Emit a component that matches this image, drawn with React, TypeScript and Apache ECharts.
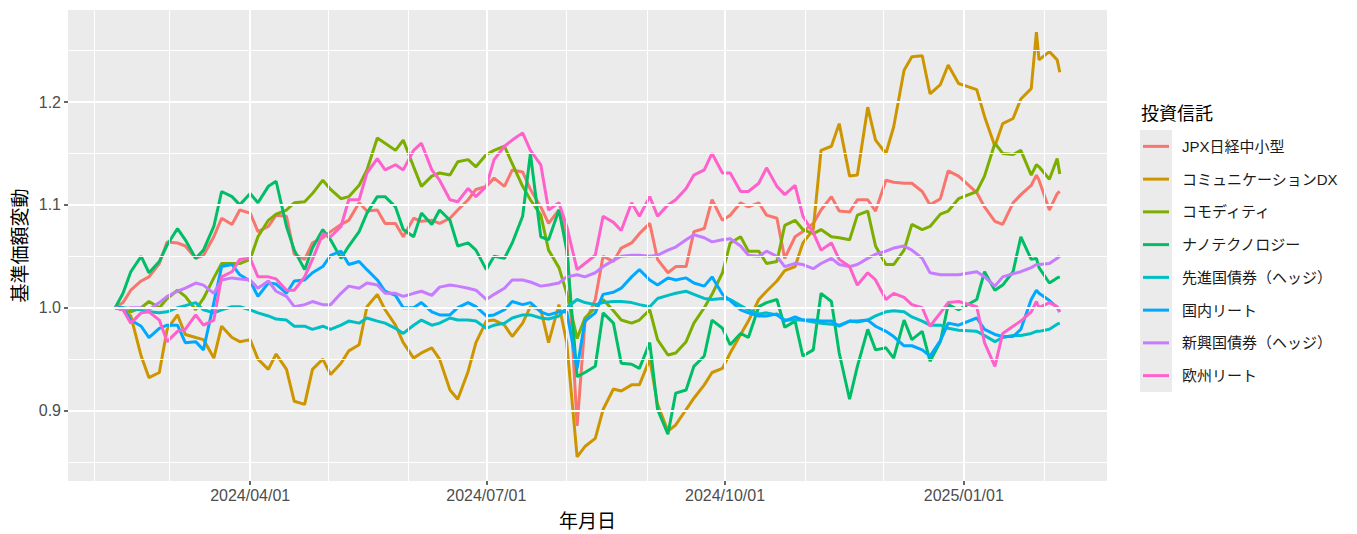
import React, { useEffect, useRef } from "react";
import * as echarts from "echarts";

// ---- data ----
const dates = [
  "2024-02-09","2024-02-12","2024-02-15","2024-02-19","2024-02-22","2024-02-26","2024-02-29",
  "2024-03-04","2024-03-07","2024-03-11","2024-03-14","2024-03-18","2024-03-21","2024-03-25","2024-03-28",
  "2024-04-01","2024-04-04","2024-04-08","2024-04-11","2024-04-15","2024-04-18","2024-04-22","2024-04-25","2024-04-29",
  "2024-05-02","2024-05-06","2024-05-09","2024-05-13","2024-05-16","2024-05-20","2024-05-23","2024-05-27","2024-05-30",
  "2024-06-03","2024-06-06","2024-06-10","2024-06-13","2024-06-17","2024-06-20","2024-06-24","2024-06-27",
  "2024-07-01","2024-07-04","2024-07-08","2024-07-11","2024-07-15","2024-07-18","2024-07-22","2024-07-25","2024-07-29",
  "2024-08-01","2024-08-05","2024-08-08","2024-08-12","2024-08-15","2024-08-19","2024-08-22","2024-08-26","2024-08-29",
  "2024-09-02","2024-09-05","2024-09-09","2024-09-12","2024-09-16","2024-09-19","2024-09-23","2024-09-26","2024-09-30",
  "2024-10-03","2024-10-07","2024-10-10","2024-10-14","2024-10-17","2024-10-21","2024-10-24","2024-10-28","2024-10-31",
  "2024-11-04","2024-11-07","2024-11-11","2024-11-14","2024-11-18","2024-11-21","2024-11-25","2024-11-28",
  "2024-12-02","2024-12-05","2024-12-09","2024-12-12","2024-12-16","2024-12-19","2024-12-23","2024-12-26","2024-12-30",
  "2025-01-06","2025-01-09","2025-01-13","2025-01-16","2025-01-20","2025-01-23","2025-01-27","2025-01-29","2025-01-30",
  "2025-02-03","2025-02-06","2025-02-07",
];

const jpx = [
  1.000,1.005,1.017,1.026,1.030,1.043,1.064,
  1.063,1.060,1.048,1.051,1.069,1.087,1.081,1.095,
  1.092,1.074,1.079,1.090,1.089,1.052,1.047,1.063,1.068,
  1.074,1.081,1.085,1.102,1.094,1.095,1.082,1.082,1.069,
  1.087,1.084,1.085,1.082,1.087,1.095,1.105,1.115,
  1.118,1.126,1.118,1.134,1.132,1.115,1.098,1.082,1.095,
  1.069,0.885,0.985,1.008,1.050,1.045,1.058,1.063,1.072,
  1.082,1.047,1.034,1.040,1.040,1.074,1.077,1.105,1.085,
  1.090,1.102,1.098,1.102,1.090,1.087,1.048,1.069,1.074,
  1.082,1.095,1.108,1.094,1.093,1.105,1.105,1.094,
  1.124,1.122,1.121,1.121,1.113,1.100,1.106,1.133,1.128,
  1.112,1.098,1.084,1.081,1.102,1.110,1.119,1.129,1.124,
  1.095,1.111,1.113,
];

const commDX = [
  1.000,0.998,0.992,0.953,0.932,0.937,0.979,
  0.993,0.974,0.971,0.969,0.951,0.982,0.971,0.967,
  0.969,0.950,0.940,0.955,0.940,0.909,0.906,0.940,0.950,
  0.935,0.946,0.958,0.964,1.001,1.013,0.998,0.983,0.966,
  0.951,0.956,0.961,0.950,0.920,0.911,0.938,0.966,
  0.987,0.988,0.983,0.972,0.985,1.001,0.998,0.966,1.003,
  0.966,0.855,0.865,0.873,0.901,0.921,0.919,0.925,0.925,
  0.950,0.906,0.880,0.886,0.901,0.912,0.925,0.937,0.941,
  0.956,0.974,0.987,1.008,1.016,1.026,1.036,1.040,1.063,
  1.076,1.153,1.157,1.179,1.128,1.129,1.195,1.163,
  1.150,1.176,1.231,1.244,1.245,1.208,1.217,1.236,1.218,
  1.212,1.186,1.157,1.179,1.184,1.203,1.213,1.268,1.241,
  1.249,1.241,1.229,
];

const commodity = [
  1.000,1.000,0.996,1.000,1.006,1.000,1.009,
  1.017,1.011,0.998,1.009,1.029,1.043,1.043,1.043,
  1.047,1.069,1.085,1.091,1.095,1.102,1.103,1.111,1.124,
  1.115,1.106,1.108,1.119,1.134,1.165,1.160,1.153,1.163,
  1.137,1.118,1.128,1.131,1.129,1.142,1.144,1.137,
  1.149,1.153,1.157,1.140,1.118,1.105,1.090,1.056,1.039,
  1.014,0.970,0.990,1.000,1.008,0.997,0.988,0.985,0.988,
  0.998,0.969,0.954,0.956,0.967,0.985,1.000,1.013,1.034,
  1.063,1.069,1.055,1.055,1.043,1.045,1.080,1.085,1.076,
  1.072,1.076,1.069,1.068,1.066,1.090,1.094,1.060,
  1.042,1.042,1.056,1.081,1.076,1.079,1.091,1.094,1.106,
  1.113,1.128,1.160,1.150,1.149,1.153,1.129,1.139,1.137,
  1.125,1.145,1.130,
];

const nanotech = [
  1.000,1.014,1.035,1.050,1.034,1.045,1.061,
  1.077,1.066,1.048,1.056,1.079,1.113,1.108,1.100,
  1.111,1.102,1.118,1.123,1.079,1.056,1.037,1.058,1.076,
  1.066,1.048,1.060,1.074,1.092,1.108,1.108,1.098,1.076,
  1.069,1.092,1.081,1.095,1.085,1.060,1.063,1.056,
  1.037,1.050,1.048,1.063,1.089,1.150,1.069,1.066,1.095,
  1.056,0.933,0.937,0.943,0.995,0.985,0.946,0.945,0.941,
  0.966,0.901,0.877,0.917,0.920,0.943,0.953,0.988,0.980,
  0.964,0.975,0.971,1.001,1.005,1.008,0.981,0.987,0.953,
  0.959,1.014,1.006,0.956,0.911,0.943,0.979,0.959,
  0.961,0.951,0.988,0.969,0.977,0.948,0.967,1.003,0.998,
  1.008,1.035,1.017,1.022,1.035,1.069,1.047,1.048,1.039,
  1.024,1.029,1.030,
];

const devBond = [
  1.000,1.000,0.999,0.998,0.996,0.995,0.996,
  1.000,1.002,1.005,0.998,0.995,0.998,1.001,1.001,
  0.998,0.995,0.992,0.989,0.988,0.982,0.982,0.979,0.982,
  0.979,0.983,0.987,0.985,0.990,0.987,0.985,0.980,0.975,
  0.983,0.988,0.983,0.985,0.990,0.988,0.988,0.987,
  0.980,0.983,0.985,0.990,0.993,0.993,0.990,0.989,0.992,
  1.000,1.008,1.005,1.003,1.005,1.006,1.006,1.005,1.003,
  1.001,1.009,1.012,1.014,1.016,1.013,1.009,1.008,1.009,
  1.008,1.002,0.998,0.994,0.995,0.993,0.988,0.988,0.988,
  0.986,0.985,0.984,0.983,0.987,0.986,0.988,0.992,
  0.996,0.997,0.996,0.991,0.987,0.983,0.983,0.980,0.978,
  0.977,0.973,0.967,0.971,0.973,0.973,0.975,0.977,0.977,
  0.979,0.984,0.985,
];

const jReit = [
  1.000,1.000,0.988,0.982,0.971,0.980,0.983,
  0.983,0.966,0.967,0.959,1.005,1.040,1.042,1.032,
  1.026,1.011,1.024,1.023,1.014,1.026,1.027,1.034,1.040,
  1.051,1.055,1.042,1.045,1.037,1.027,1.016,1.012,1.000,
  1.000,1.005,0.996,0.993,0.993,1.000,1.005,1.001,
  0.992,0.993,0.998,1.006,1.003,1.005,0.996,0.993,0.996,
  0.996,0.941,0.987,0.995,1.013,1.015,1.019,1.030,1.037,
  1.027,1.022,1.029,1.027,1.029,1.024,1.021,1.030,1.013,
  1.007,0.998,0.995,0.992,0.992,0.994,0.987,0.991,0.988,
  0.988,0.987,0.987,0.982,0.987,0.987,0.988,0.982,
  0.977,0.972,0.963,0.963,0.959,0.953,0.968,0.985,0.983,
  0.990,0.979,0.974,0.972,0.972,0.979,1.008,1.017,1.014,
  1.007,1.000,0.996,
];

const emBond = [
  1.000,0.998,1.000,1.000,0.998,1.005,1.011,
  1.016,1.019,1.024,1.022,1.014,1.027,1.029,1.028,
  1.027,1.019,1.026,1.016,1.011,1.001,1.003,1.006,1.003,
  1.003,1.014,1.021,1.019,1.024,1.022,1.014,1.014,1.011,
  1.014,1.016,1.012,1.020,1.022,1.021,1.019,1.017,
  1.008,1.013,1.019,1.027,1.027,1.025,1.021,1.022,1.024,
  1.030,1.032,1.030,1.034,1.040,1.046,1.050,1.051,1.051,
  1.050,1.051,1.056,1.059,1.066,1.071,1.068,1.064,1.066,
  1.067,1.060,1.051,1.050,1.055,1.050,1.040,1.043,1.042,
  1.038,1.043,1.048,1.042,1.040,1.042,1.048,1.052,
  1.055,1.058,1.060,1.056,1.048,1.034,1.032,1.032,1.032,
  1.035,1.030,1.021,1.030,1.033,1.035,1.039,1.042,1.042,
  1.043,1.048,1.050,
];

const euReit = [
  1.000,0.998,0.985,0.995,0.996,0.988,0.967,
  0.977,0.979,0.993,0.983,0.988,1.030,1.035,1.047,
  1.048,1.030,1.030,1.028,1.017,1.017,1.030,1.047,1.072,
  1.069,1.079,1.105,1.105,1.131,1.145,1.134,1.139,1.134,
  1.153,1.160,1.134,1.124,1.105,1.103,1.116,1.108,
  1.118,1.144,1.157,1.163,1.170,1.153,1.139,1.095,1.102,
  1.079,1.037,1.043,1.051,1.089,1.083,1.075,1.102,1.089,
  1.108,1.089,1.100,1.105,1.116,1.129,1.134,1.150,1.131,
  1.131,1.113,1.113,1.121,1.136,1.118,1.110,1.119,1.089,
  1.073,1.056,1.063,1.047,1.040,1.022,1.034,1.027,
  1.008,1.014,1.010,1.003,1.000,0.982,0.995,1.005,1.006,
  1.001,0.966,0.943,0.975,0.982,0.987,0.996,1.006,1.000,
  1.005,1.001,0.996,
];

const seriesNames = [
  "JPX日経中小型",
  "コミュニケーションDX",
  "コモディティ",
  "ナノテクノロジー",
  "先進国債券（ヘッジ）",
  "国内リート",
  "新興国債券（ヘッジ）",
  "欧州リート",
];
const seriesValues = [jpx, commDX, commodity, nanotech, devBond, jReit, emBond, euReit];
const colors = ["#F8766D", "#CD9600", "#7CAE00", "#00BE67", "#00BFC4", "#00A9FF", "#C77CFF", "#FF61CC"];

const yBreaks = [0.9, 1.0, 1.1, 1.2];
const yMinorBreaks = [0.85, 0.95, 1.05, 1.15, 1.25];
const xBreaks = ["2024-04-01", "2024-07-01", "2024-10-01", "2025-01-01"];
const xMinorBreaks = [
  "2024-02-01", "2024-03-01", "2024-05-01", "2024-06-01", "2024-08-01",
  "2024-09-01", "2024-11-01", "2024-12-01", "2025-02-01",
];
const Y_MIN = 0.8315;
const Y_MAX = 1.2895;

const legendTitle = "投資信託";
const xTitle = "年月日";
const yTitle = "基準価額変動";

// ---- helpers ----
const ts = (s: string) => Date.parse(s + "T00:00:00Z");
const pad2 = (n: number) => (n < 10 ? "0" : "") + n;
const fmtDate = (v: number) => {
  const d = new Date(v);
  return `${d.getUTCFullYear()}/${pad2(d.getUTCMonth() + 1)}/${pad2(d.getUTCDate())}`;
};

const LATIN = "'Liberation Sans', Arial, 'Noto Sans CJK JP', sans-serif";
const CJK = "'Noto Sans CJK JP', 'Liberation Sans', sans-serif";

export default function App() {
  const ref = useRef<HTMLDivElement>(null);

  useEffect(() => {
    document.body.style.margin = "0";
    const chart = echarts.init(ref.current as HTMLDivElement, null, { renderer: "svg" });

    const t0 = ts(dates[0]);
    const t1 = ts(dates[dates.length - 1]);
    const expand = (t1 - t0) * 0.05;

    const gridLines: any[] = [
      ...yMinorBreaks.map((v) => ({ yAxis: v, lineStyle: { color: "#FFFFFF", width: 1, type: "solid" } })),
      ...xMinorBreaks.map((d) => ({ xAxis: ts(d), lineStyle: { color: "#FFFFFF", width: 1, type: "solid" } })),
      ...yBreaks.map((v) => ({ yAxis: v, lineStyle: { color: "#FFFFFF", width: 2, type: "solid" } })),
      ...xBreaks.map((d) => ({ xAxis: ts(d), lineStyle: { color: "#FFFFFF", width: 2, type: "solid" } })),
    ];

    const ROW_H = 32.75;
    const LEG_TOP = 130;
    const legendGraphics: any[] = [
      {
        type: "text",
        x: 1141,
        y: 112,
        style: { text: legendTitle, fontSize: 18, fill: "#000000", fontFamily: CJK, verticalAlign: "middle" },
      },
      {
        type: "rect",
        shape: { x: 1140, y: LEG_TOP, width: 32, height: ROW_H * seriesNames.length },
        style: { fill: "#EBEBEB" },
      },
    ];
    seriesNames.forEach((name, i) => {
      const cy = LEG_TOP + ROW_H * (i + 0.5);
      legendGraphics.push({
        type: "line",
        shape: { x1: 1143, y1: cy, x2: 1169, y2: cy },
        style: { stroke: colors[i], lineWidth: 3 },
      });
      legendGraphics.push({
        type: "text",
        x: 1182,
        y: cy,
        style: { text: name, fontSize: 15, fill: "#1A1A1A", fontFamily: LATIN, verticalAlign: "middle" },
      });
    });

    const option: any = {
      animation: false,
      backgroundColor: "#FFFFFF",
      grid: {
        left: 68,
        right: 250,
        top: 10,
        bottom: 52,
        show: true,
        backgroundColor: "#EBEBEB",
        borderWidth: 0,
      },
      xAxis: {
        type: "value",
        min: t0 - expand,
        max: t1 + expand,
        splitLine: { show: false },
        axisLine: { show: false },
        axisTick: {
          show: true,
          customValues: xBreaks.map(ts),
          length: 4,
          lineStyle: { color: "#333333", width: 1.5 },
        },
        axisLabel: {
          customValues: xBreaks.map(ts),
          formatter: (v: number) => fmtDate(v),
          fontSize: 16,
          color: "#4D4D4D",
          margin: 6,
          fontFamily: LATIN,
        },
        name: xTitle,
        nameLocation: "middle",
        nameGap: 29,
        nameTextStyle: { fontSize: 19, color: "#000000", fontFamily: CJK },
      },
      yAxis: {
        type: "value",
        min: Y_MIN,
        max: Y_MAX,
        splitLine: { show: false },
        axisLine: { show: false },
        axisTick: {
          show: true,
          customValues: yBreaks,
          length: 4,
          lineStyle: { color: "#333333", width: 1.5 },
        },
        axisLabel: {
          customValues: yBreaks,
          formatter: (v: number) => v.toFixed(1),
          fontSize: 16,
          color: "#4D4D4D",
          margin: 7,
          fontFamily: LATIN,
        },
        name: yTitle,
        nameLocation: "middle",
        nameRotate: 90,
        nameGap: 40,
        nameTextStyle: { fontSize: 19, color: "#000000", fontFamily: CJK },
      },
      series: [
        {
          type: "line",
          name: "__grid",
          data: [],
          z: 1,
          silent: true,
          markLine: {
            silent: true,
            animation: false,
            symbol: ["none", "none"],
            label: { show: false },
            emphasis: { disabled: true },
            data: gridLines,
          },
        },
        ...seriesNames.map((name, i) => ({
          type: "line",
          name,
          z: 2,
          showSymbol: false,
          symbol: "none",
          silent: true,
          emphasis: { disabled: true },
          lineStyle: { color: colors[i], width: 3 },
          itemStyle: { color: colors[i] },
          data: dates.map((d, k) => [ts(d), seriesValues[i][k]]),
        })),
      ],
      graphic: legendGraphics,
    };

    chart.setOption(option);
    return () => chart.dispose();
  }, []);

  return <div ref={ref} style={{ width: 1357, height: 534 }} />;
}
